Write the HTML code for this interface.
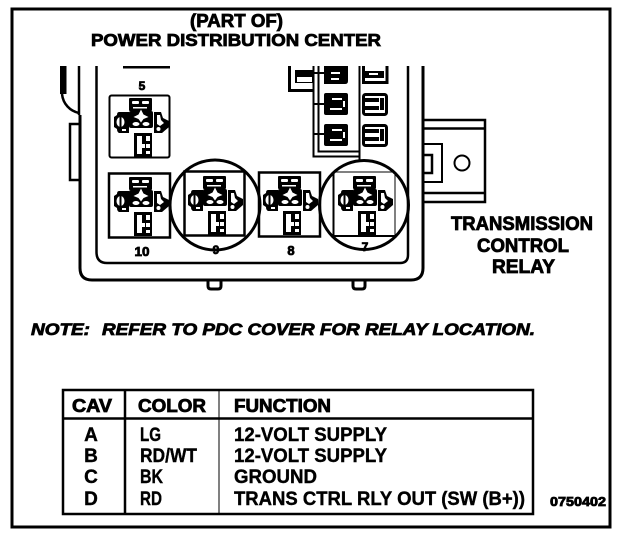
<!DOCTYPE html>
<html><head><meta charset="utf-8"><style>
html,body{margin:0;padding:0;background:#fff}
svg{display:block}
text{font-family:"Liberation Sans",sans-serif;font-weight:bold;fill:#000;stroke:#000;stroke-width:.8}
text.b{font-weight:bold;stroke-width:.4}
</style></head><body>
<svg width="624" height="536" viewBox="0 0 624 536" xmlns="http://www.w3.org/2000/svg">
<defs>
<g id="r">
 <rect x="19" y="5" width="23" height="13" rx="1" fill="#000"/>
 <rect x="22" y="8" width="7" height="3" rx="1" fill="#fff"/><rect x="32" y="8" width="7" height="3" rx="1" fill="#fff"/>
 <rect x="23" y="14" width="14" height="1.500" fill="#fff"/>
 <rect x="19" y="18" width="24" height="17" rx="2" fill="#000"/>
 <path d="M31 16.500l2.500 5 5 2.500-5 2-2.500 3.500-2.500-3.500-5-2 5-2.500z" fill="#fff"/>
 <ellipse cx="26" cy="31" rx="3.500" ry="2" fill="#fff"/><ellipse cx="36" cy="31" rx="3.500" ry="2" fill="#fff"/>
 <path d="M9 19h10v21h-10q-2-1-2-4l-3-2v-10l3-2q0-3 2-3z" fill="#000"/>
 <ellipse cx="10.500" cy="29" rx="4" ry="5" fill="#fff"/><rect x="9.500" y="24" width="2" height="10" fill="#000"/><rect x="12" y="36" width="4" height="2" fill="#fff"/>
 <path d="M44 19h7l2 6 6 3v6l-7 6h-8z" fill="#000"/>
 <path d="M47 22h3l1 5 3 3-4 3-3-2z" fill="#fff"/><ellipse cx="48.500" cy="36" rx="2" ry="2" fill="#fff"/>
 <path d="M24 40h18v24h-18z" fill="#000"/>
 <path d="M27 43h5v8h3v4h-3v6h-5z" fill="#fff"/>
 <rect x="36" y="43" width="4" height="5" fill="#fff"/><rect x="36" y="51" width="4" height="4" fill="#fff"/><rect x="36" y="58" width="4" height="3" fill="#fff"/>
</g>
<g id="f1"><rect width="24" height="22" rx="2" fill="#000"/><rect x="8" y="5" width="10" height="2" fill="#fff"/><rect x="6" y="15" width="12" height="2" fill="#fff"/><rect x="19" y="8" width="2" height="6" fill="#fff"/></g>
<g id="f2"><rect x="1.500" y="1.500" width="23" height="20" rx="2" fill="#fff" stroke="#000" stroke-width="3"/><rect x="3" y="5" width="14" height="4" fill="#000"/><rect x="3" y="13" width="14" height="4" fill="#000"/><rect x="18" y="5" width="4" height="12" fill="#000"/></g>
</defs>

<!-- outer frame -->
<path d="M12 527V9H610V527Z" fill="none" stroke="#000" stroke-width="3"/>

<!-- left bar and clip -->
<rect x="60" y="66" width="6.500" height="28" fill="#000"/>
<path d="M62 94c1 10 8 17 17 19" fill="none" stroke="#000" stroke-width="2.500"/>
<path d="M79 66V115" stroke="#000" stroke-width="2.500" fill="none"/>
<path d="M79 124H70V180H80" fill="none" stroke="#000" stroke-width="2.500"/>

<!-- housing -->
<path d="M80 115V268Q80 280 92 280H411Q423 280 423 268V66" fill="none" stroke="#000" stroke-width="3"/>
<path d="M96.500 66V252Q96.500 263 107 263H400Q408 263 408 255V66" fill="none" stroke="#000" stroke-width="2.500"/>
<path d="M208 281v5q0 3 3 3h7q3 0 3-3v-5" fill="none" stroke="#000" stroke-width="3"/>
<path d="M353 281v5q0 3 3 3h6q3 0 3-3v-5" fill="none" stroke="#000" stroke-width="3"/>

<!-- top rule above relay 5 -->
<rect x="123" y="66" width="47" height="2.500" fill="#000"/>

<!-- relays -->
<rect x="109.500" y="95.500" width="60" height="62" rx="2" fill="#fff" stroke="#000" stroke-width="2"/>
<use href="#r" x="110" y="93"/>
<rect x="109" y="173.500" width="61" height="64" fill="#fff" stroke="#000" stroke-width="2.500"/>
<use href="#r" x="110" y="172"/>
<rect x="184.500" y="171.500" width="60" height="64" fill="#fff" stroke="#000" stroke-width="2.500"/>
<use href="#r" x="184" y="171"/>
<rect x="259" y="172.500" width="61" height="64" fill="#fff" stroke="#000" stroke-width="2.500"/>
<use href="#r" x="259" y="171"/>
<path d="M333.500 172V236H395" fill="none" stroke="#000" stroke-width="2"/>
<path d="M333 172H395V236" fill="none" stroke="#000" stroke-width="1"/>
<use href="#r" x="334" y="171"/>

<!-- circles -->
<circle cx="215" cy="205" r="45" fill="none" stroke="#000" stroke-width="3"/>
<circle cx="364" cy="205" r="44.500" fill="none" stroke="#000" stroke-width="3"/>

<!-- relay numbers -->
<text x="142" y="90" font-size="12" text-anchor="middle">5</text>
<text x="142" y="256" font-size="13" text-anchor="middle" textLength="15" lengthAdjust="spacingAndGlyphs">10</text>
<text x="216" y="254" font-size="12" text-anchor="middle">9</text>
<text x="291" y="255" font-size="13" text-anchor="middle">8</text>
<text x="365" y="251" font-size="12" text-anchor="middle">7</text>

<!-- fuse area -->
<path d="M289.500 66V90.500H314" fill="none" stroke="#000" stroke-width="3"/>
<rect x="295" y="70" width="19" height="13" fill="#000"/><rect x="297" y="77" width="15" height="5" fill="#fff"/>
<path d="M313.500 66V156.500H359M318.500 66V151.500H359M359.500 66V160" fill="none" stroke="#000" stroke-width="2"/>
<path d="M313 73H324M313 104H324M313 134H324" stroke="#000" stroke-width="2"/>
<path d="M324 66H348V81Q348 84 345 84H324Z" fill="#000"/><rect x="331" y="72" width="9" height="2" fill="#fff"/><rect x="331" y="78" width="8" height="2" fill="#fff"/>
<use href="#f1" x="324" y="93"/>
<use href="#f1" x="324" y="124"/>
<path d="M363.500 66V82.500H387V66" fill="none" stroke="#000" stroke-width="3"/><rect x="365" y="71" width="19" height="7" fill="#000"/><rect x="369" y="73" width="9" height="2" fill="#fff"/>
<use href="#f2" x="362" y="93"/>
<use href="#f2" x="362" y="124"/>

<!-- bracket -->
<path d="M423 120H485V202H423M423 128.500H485M423 193H485" fill="none" stroke="#000" stroke-width="2.500"/>
<path d="M423 144H442V182H423" fill="none" stroke="#000" stroke-width="2"/>
<path d="M423 155H432V173H423" fill="none" stroke="#000" stroke-width="2.500"/>
<circle cx="462" cy="163" r="7.500" fill="none" stroke="#000" stroke-width="2"/>

<!-- titles -->
<text x="190" y="27" font-size="18" textLength="93" lengthAdjust="spacingAndGlyphs">(PART OF)</text>
<text x="91" y="46" font-size="17.500" textLength="290" lengthAdjust="spacingAndGlyphs">POWER DISTRIBUTION CENTER</text>
<text x="451" y="230" font-size="19" textLength="142" lengthAdjust="spacingAndGlyphs">TRANSMISSION</text>
<text x="477" y="252" font-size="19" textLength="92" lengthAdjust="spacingAndGlyphs">CONTROL</text>
<text x="492" y="273" font-size="19" textLength="63" lengthAdjust="spacingAndGlyphs">RELAY</text>

<!-- note -->
<text x="31" y="335" font-size="17" font-style="italic" textLength="59" lengthAdjust="spacingAndGlyphs">NOTE:</text>
<text x="102" y="335" font-size="17" font-style="italic" textLength="433" lengthAdjust="spacingAndGlyphs">REFER TO PDC COVER FOR RELAY LOCATION.</text>

<!-- table -->
<rect x="63" y="390" width="470" height="124" fill="none" stroke="#000" stroke-width="2.500"/>
<path d="M63 418.500H533M125 390V514" stroke="#000" stroke-width="2.500" fill="none"/>
<path d="M219 390V514" stroke="#000" stroke-width="1" fill="none"/>
<text x="72" y="412" font-size="18" textLength="40" lengthAdjust="spacingAndGlyphs">CAV</text>
<text x="138" y="412" font-size="18" textLength="68" lengthAdjust="spacingAndGlyphs">COLOR</text>
<text x="234" y="412" font-size="18" textLength="97" lengthAdjust="spacingAndGlyphs">FUNCTION</text>
<text class="b" x="91" y="441" font-size="19" text-anchor="middle">A</text>
<text class="b" x="91" y="462" font-size="19" text-anchor="middle">B</text>
<text class="b" x="91" y="483" font-size="19" text-anchor="middle">C</text>
<text class="b" x="91" y="505" font-size="19" text-anchor="middle">D</text>
<text class="b" x="140" y="441" font-size="19" textLength="21" lengthAdjust="spacingAndGlyphs">LG</text>
<text class="b" x="140" y="462" font-size="19" textLength="57" lengthAdjust="spacingAndGlyphs">RD/WT</text>
<text class="b" x="140" y="483" font-size="19" textLength="23" lengthAdjust="spacingAndGlyphs">BK</text>
<text class="b" x="140" y="505" font-size="19" textLength="22" lengthAdjust="spacingAndGlyphs">RD</text>
<text class="b" x="234" y="441" font-size="19" textLength="153" lengthAdjust="spacingAndGlyphs">12-VOLT SUPPLY</text>
<text class="b" x="234" y="462" font-size="19" textLength="153" lengthAdjust="spacingAndGlyphs">12-VOLT SUPPLY</text>
<text class="b" x="234" y="483" font-size="19" textLength="83" lengthAdjust="spacingAndGlyphs">GROUND</text>
<text class="b" x="234" y="505" font-size="19" textLength="291" lengthAdjust="spacingAndGlyphs">TRANS CTRL RLY OUT (SW (B+))</text>
<text x="550" y="506" font-size="12.500" textLength="56" lengthAdjust="spacingAndGlyphs">0750402</text>
</svg>
</body></html>
